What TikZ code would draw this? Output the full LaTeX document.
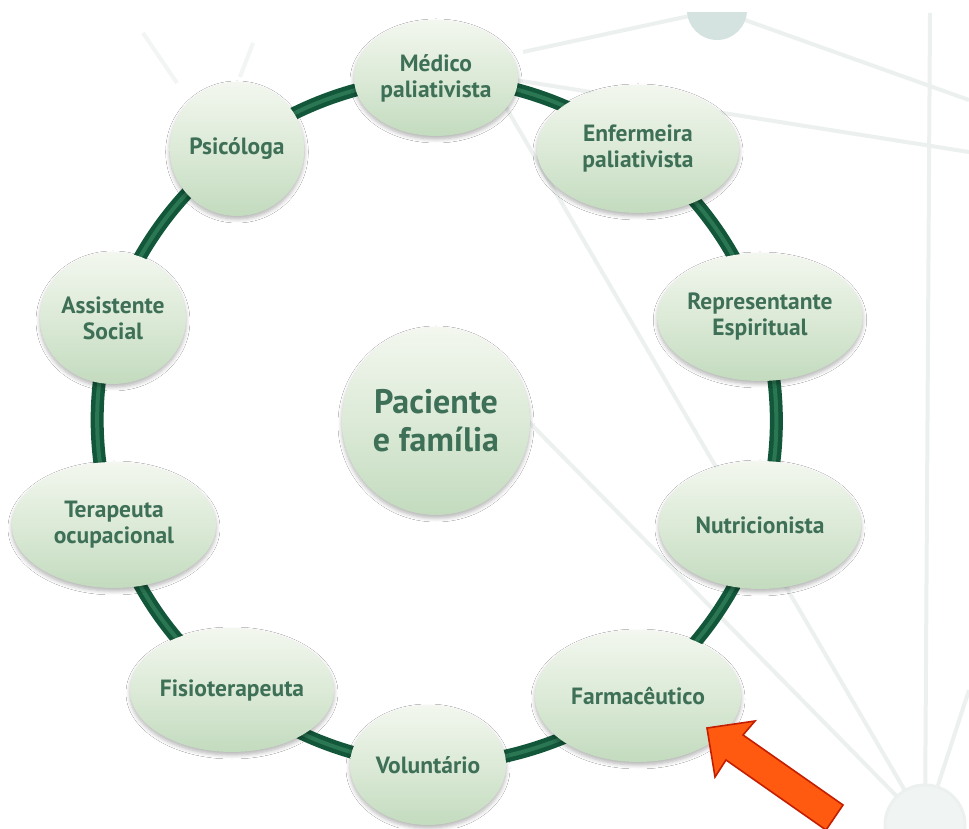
\documentclass[tikz,border=0pt]{standalone}
\usepackage{fontspec}
\setmainfont{PT Sans}
\usetikzlibrary{shapes.geometric,shadows.blur}

\definecolor{ringgreen}{HTML}{13573A}
\definecolor{ringlight}{HTML}{2B7653}
\definecolor{labelgreen}{HTML}{3E6F57}
\definecolor{balltop}{HTML}{F3F7EF}
\definecolor{ballmid}{HTML}{DCEAD7}
\definecolor{ballbottom}{HTML}{C3DBBF}
\definecolor{decogray}{HTML}{ECF1EF}
\definecolor{decofaint}{HTML}{F2F5F4}
\definecolor{decoteal}{HTML}{D5E3E0}
\definecolor{decopale}{HTML}{F0F5F3}
\definecolor{arrowfill}{HTML}{FF5A10}
\definecolor{arrowedge}{HTML}{C41E00}

\pgfdeclarelayer{deco}
\pgfdeclarelayer{ring}
\pgfsetlayers{deco,ring,main}

\tikzset{
  ball/.style={ellipse, inner sep=0pt, align=center,
    top color=balltop, bottom color=ballbottom, middle color=ballmid,
    text=labelgreen, font=\bfseries\fontsize{23.5}{26}\selectfont,
    blur shadow={shadow xshift=0pt, shadow yshift=-3pt,
      shadow blur radius=4pt, shadow blur steps=6, shadow opacity=30}},
  hub/.style={ball, circle, font=\bfseries\fontsize{34}{38}\selectfont},
  ringbase/.style={draw=ringgreen, line width=13pt, looseness=0.87},
  ringshine/.style={draw=ringlight, line width=4pt, looseness=0.87},
  decoline/.style={draw=decogray, line width=4pt},
  decothin/.style={draw=decofaint, line width=4pt},
  pointer/.style={fill=arrowfill, draw=arrowedge, line width=1.6pt, line join=miter},
}

\begin{document}
\begin{tikzpicture}[x=1pt, y=1pt]
\useasboundingbox (0,0) rectangle (969,828);

% team members around the ring
\node[ball, minimum width=164pt, minimum height=116pt] (medico) at (436,750) {Médico\\paliativista};
\node[ball, minimum width=202pt, minimum height=128pt] (enf) at (638,679) {Enfermeira\\paliativista};
\node[ball, minimum width=204pt, minimum height=128pt] (rep) at (760,511) {Representante\\Espiritual};
\node[ball, minimum width=202pt, minimum height=128pt] (nut) at (760,303) {Nutricionista};
\node[ball, minimum width=206pt, minimum height=132pt] (farm) at (638,132) {Farmacêutico};
\node[ball, minimum width=156pt, minimum height=120pt] (vol) at (428,63) {Voluntário};
\node[ball, minimum width=202pt, minimum height=124pt] (fisio) at (232,138) {Fisioterapeuta};
\node[ball, minimum width=204pt, minimum height=126pt] (tera) at (114,303) {Terapeuta\\ocupacional};
\node[ball, minimum width=130pt, minimum height=132pt] (assist) at (113,510) {Assistente\\Social};
\node[ball, minimum width=134pt, minimum height=134pt] (psico) at (237,679) {Psicóloga};

% centre
\node[hub, minimum size=188pt] (paciente) at (436,407) {Paciente\\e família};

% the ring linking the team
\begin{pgfonlayer}{ring}
  \foreach \a/\b in {medico/enf, enf/rep, rep/nut, nut/farm, farm/vol,
                     vol/fisio, fisio/tera, tera/assist, assist/psico, psico/medico}{
    \draw[ringbase] (\a.center) to[bend left=18] (\b.center);
    \draw[ringshine] (\a.center) to[bend left=18] (\b.center);
  }
\end{pgfonlayer}

% white ground and the faint network behind everything
\begin{pgfonlayer}{deco}
\fill[white] (0,0) rectangle (969,828);
\begin{scope}
  \clip (0,0) rectangle (969,815);
  \coordinate (topdot) at (717,818);
  \coordinate (cornerdot) at (925,3);
  \draw[decoline] (523,776) -- (topdot);
  \draw[decoline] (topdot) -- (969,728);
  \draw[decoline] (515,748) -- (969,676);
  \draw[decoline] (930,815) -- (cornerdot);
  \draw[decoline] (490,748) -- (cornerdot);
  \draw[decoline] (520,415) -- (cornerdot);
  \draw[decoline] (969,138) -- (cornerdot);
  \draw[decothin] (143,795) -- (177,745);
  \draw[decothin] (253,785) -- (240,751);
  \fill[decoteal] (topdot) circle (30pt);
  \filldraw[fill=decopale, draw=decogray, line width=3pt] (cornerdot) circle (40pt);
\end{scope}
\end{pgfonlayer}

% highlight arrow
\draw[pointer] (707,100) -- (755,107) -- (743,93) -- (843,23) -- (826,-2)
  -- (726,68) -- (715,51) -- cycle;
\end{tikzpicture}
\end{document}
